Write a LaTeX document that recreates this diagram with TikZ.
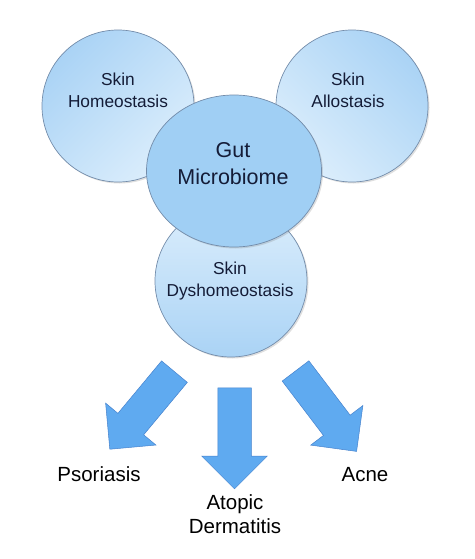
\documentclass[tikz,border=0pt]{standalone}
\usepackage{fontspec}
\setmainfont{Liberation Sans}
\usetikzlibrary{shapes.geometric,shapes.arrows,shadows}
\definecolor{skinblue}{RGB}{170,211,245}
\definecolor{skinpale}{RGB}{220,238,252}
\definecolor{gutblue}{RGB}{160,207,244}
\definecolor{rimgray}{RGB}{115,140,170}
\definecolor{arrowblue}{RGB}{95,170,240}
\definecolor{arrowrim}{RGB}{70,130,205}
\definecolor{inkblue}{RGB}{20,28,55}
\tikzset{
  skin/.style={circle,draw=rimgray,line width=0.7pt,minimum size=152pt,inner sep=0pt,
    top color=skinblue,bottom color=skinpale,shading angle=#1,
    drop shadow={opacity=0.25,shadow xshift=1.5pt,shadow yshift=-1.5pt}},
  gut/.style={ellipse,draw=rimgray,line width=0.7pt,fill=gutblue,
    minimum width=175pt,minimum height=152pt,inner sep=0pt,
    drop shadow={opacity=0.25,shadow xshift=1.5pt,shadow yshift=-1.5pt}},
  skintext/.style={align=center,text=inkblue,font=\fontsize{17.3}{22}\selectfont},
  guttext/.style={align=center,text=inkblue,font=\fontsize{21.5}{27}\selectfont},
  disease/.style={align=center,text=black,font=\fontsize{20.5}{24}\selectfont},
  blockarrow/.style={single arrow,draw=arrowrim,fill=arrowblue,line width=0.5pt,
    minimum width=65pt,minimum height=101pt,single arrow head extend=16pt,
    single arrow head indent=0pt,inner xsep=0pt,inner ysep=16.5pt,rotate=#1}
}
\begin{document}
\begin{tikzpicture}[x=1pt,y=-1pt]
  \useasboundingbox (0,0) rectangle (474,559);
  % the three skin states
  \node[skin=45] (home) at (118,106) {};
  \node[skin=-45] (allo) at (352,106) {};
  \node[skin=180] (dysh) at (231,281) {};
  \node[gut] (gut) at (234,171) {};
  \node[skintext] (hometxt) at ([yshift=16pt]home.center) {Skin\\Homeostasis};
  \node[skintext] (allotxt) at ([xshift=-4pt,yshift=15.5pt]allo.center) {Skin\\Allostasis};
  \node[skintext] (dyshtxt) at ([xshift=-1pt]dysh.center) {Skin\\Dyshomeostasis};
  \node[guttext] (guttxt) at ([xshift=-1pt,yshift=7.5pt]gut.center) {Gut\\Microbiome};
  % outcomes
  \node[blockarrow=230.2] (arrP) at (147.5,404) {};
  \node[blockarrow=270] (arrA) at (234.5,430) {};
  \node[blockarrow=-52.8] (arrC) at (321,404.5) {};
  \node[disease] (pso) at (99,474) {Psoriasis};
  \node[disease] (atop) at (235,514) {Atopic\\Dermatitis};
  \node[disease] (acne) at (365,475) {Acne};
\end{tikzpicture}
\end{document}
